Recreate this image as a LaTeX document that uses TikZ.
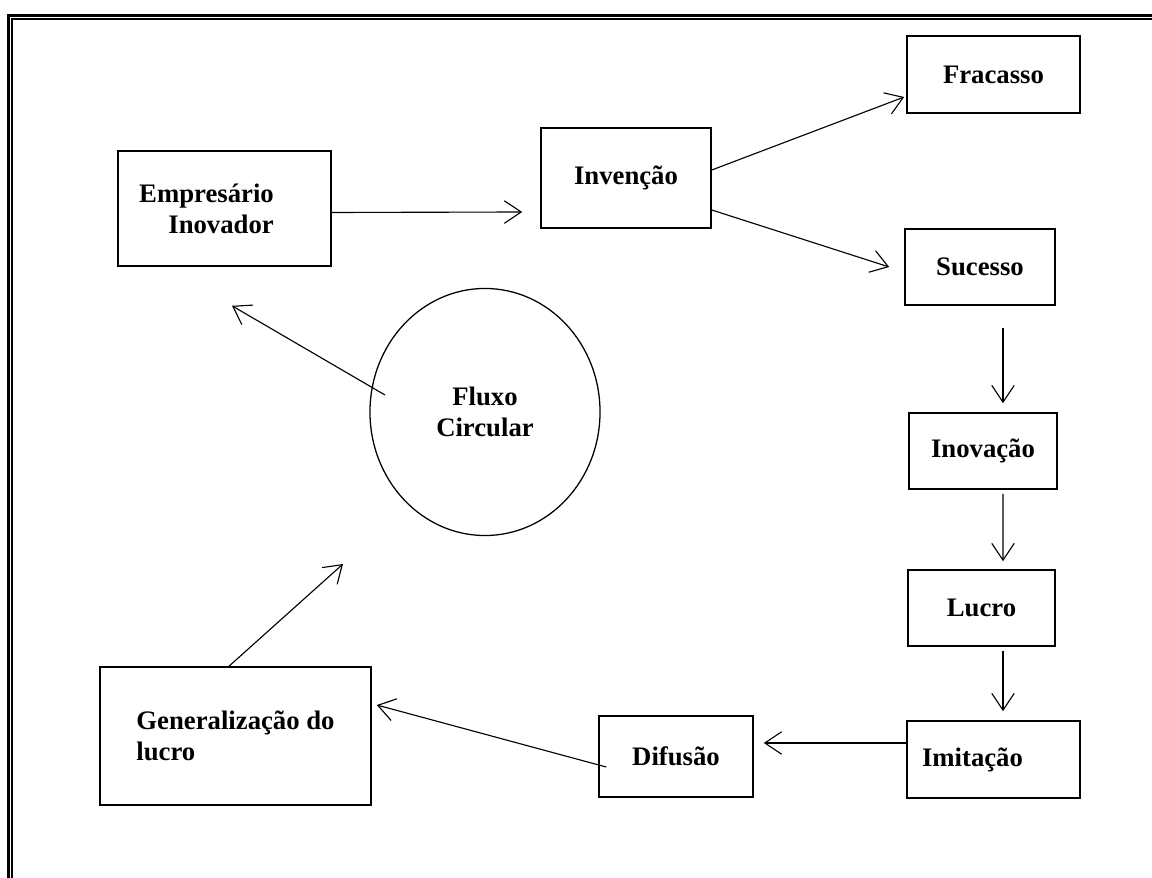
\documentclass[tikz,border=0pt]{standalone}
\usepackage{fontspec}
\setmainfont{Liberation Serif}
\usetikzlibrary{shapes.geometric,arrows.meta,calc}
\tikzset{
  box/.style={draw, line width=1.1pt, inner sep=0pt, align=center,
    font=\fontsize{19pt}{22pt}\selectfont\bfseries},
  arr/.style={line width=0.8pt, -{Straight Barb[length=12pt,width=16pt,line width=0.8pt]}}
}
\begin{document}
\begin{tikzpicture}[x=0.025cm,y=-0.025cm]
    \useasboundingbox (0,0) rectangle (1152,878);
    \draw[line width=1.9pt] (8.7,878) -- (8.7,15.3) -- (1152,15.3);
    \draw[line width=1.2pt] (12.2,878) -- (12.2,19.2) -- (1152,19.2);
    \node[box, minimum width=5.325cm, minimum height=2.875cm, align=right] (emp) at (224.5,208.5) {Empresário\hspace*{0.9cm}\\Inovador\hspace*{0.9cm}};
    \node[box, minimum width=4.25cm, minimum height=2.5cm] (inv) at (626,178) {Invenção};
    \node[box, minimum width=4.325cm, minimum height=1.925cm] (fra) at (993.5,74.5) {Fracasso};
    \node[box, minimum width=3.75cm, minimum height=1.9cm] (suc) at (980,267) {Sucesso};
    \node[box, minimum width=3.7cm, minimum height=1.9cm] (ino) at (983,451) {Inovação};
    \node[box, minimum width=3.675cm, minimum height=1.9cm] (luc) at (981.5,608) {Lucro};
    \node[box, minimum width=4.325cm, minimum height=1.925cm] (imi) at (993.5,759.5) {Imitação\hspace*{1.05cm}};
    \node[box, minimum width=3.85cm, minimum height=2.025cm] (dif) at (676,756.5) {Difusão};
    \node[box, minimum width=6.775cm, minimum height=3.45cm, align=left] (gen) at (235.5,736) {Generalização do\\lucro};
    \node[box, ellipse, line width=0.9pt, minimum width=5.75cm, minimum height=6.175cm] (flx) at (485,412) {Fluxo\\Circular};
    \draw[arr] ($(emp.east)+(0,4)$) -- ($(inv.west)+(-18,34)$);
    \draw[arr] ($(inv.east)+(0,-8)$) -- ($(fra.west)+(-2,22.5)$);
    \draw[arr] ($(inv.east)+(0,32)$) -- ($(suc.west)+(-15,0)$);
    \draw[arr] ($(suc.south)+(23,22)$) -- ($(ino.north)+(20,-9)$);
    \draw[arr] ($(ino.south)+(20,4)$) -- ($(luc.north)+(21.5,-8)$);
    \draw[arr] ($(luc.south)+(21.5,4)$) -- ($(imi.north)+(9.5,-9)$);
    \draw[arr] ($(imi.west)+(0,-16.5)$) -- ($(dif.east)+(10,-13.5)$);
    \draw[arr] ($(dif.west)+(8,10.5)$) -- ($(gen.east)+(5,-31)$);
    \draw[arr] ($(gen.north)+(-6.5,0)$) -- ($(flx.center)+(-142,152)$);
    \draw[arr] ($(flx.center)+(-100,-17)$) -- ($(emp.south)+(7.5,39)$);
\end{tikzpicture}
\end{document}
